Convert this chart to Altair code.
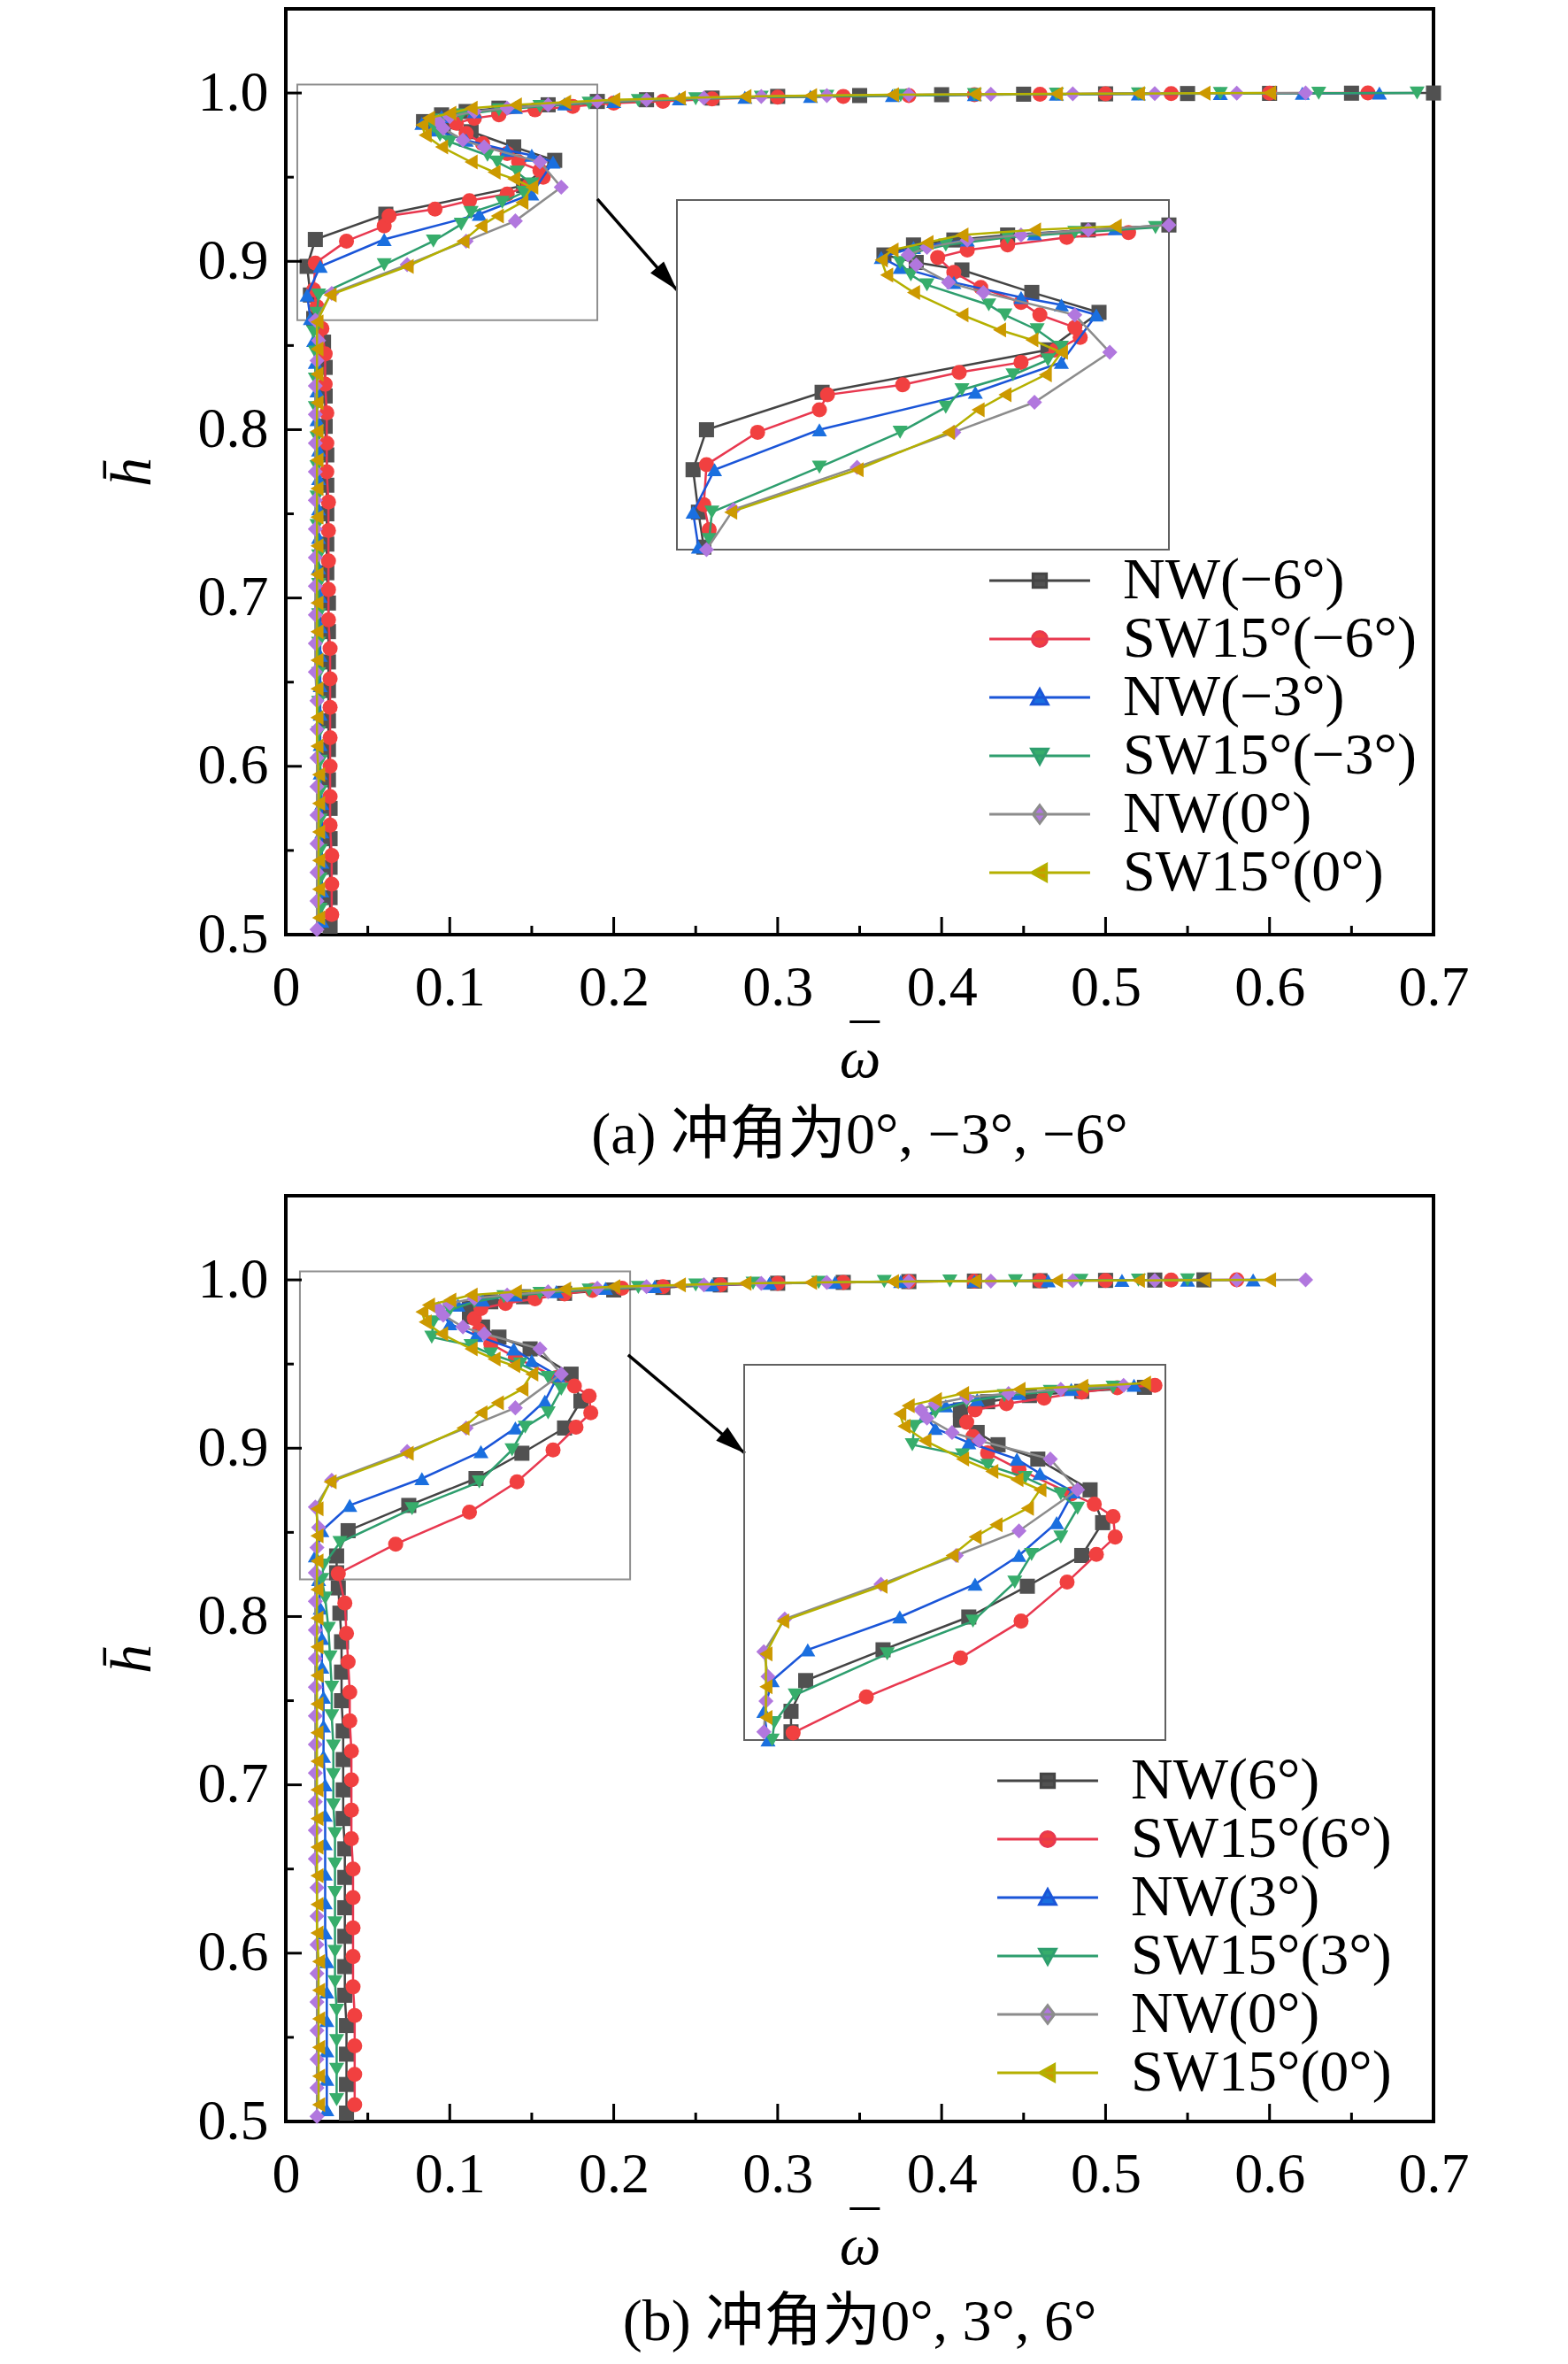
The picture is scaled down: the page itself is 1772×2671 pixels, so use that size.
import altair as alt
import pandas as pd

FONT = "Liberation Serif"
CJK_FONT = "Liberation Serif, Noto Sans CJK SC, sans-serif"

# ---------------- series names / styles ----------------
NAMES_TOP = ["NW(−6°)", "SW15°(−6°)", "NW(−3°)", "SW15°(−3°)", "NW(0°)", "SW15°(0°)"]
NAMES_BOT = ["NW(6°)", "SW15°(6°)", "NW(3°)", "SW15°(3°)", "NW(0°)", "SW15°(0°)"]
MARKER_COLORS = ["#515151", "#F14040", "#1A6FDF", "#37AD6B", "#B177DE", "#CC9900"]
LINE_COLORS = ["#444444", "#E8384F", "#1A55D8", "#2E9E6E", "#8C8C8C", "#B5B000"]
SHAPES = ["square", "circle", "triangle-up", "triangle-down", "diamond", "triangle-left"]
_L = "M-3.35,0H3.35"
LEGEND_PATHS = [
    _L + "M-0.45,-0.45H0.45V0.45H-0.45Z",
    _L + "M-0.5,0A0.5,0.5,0,1,0,0.5,0A0.5,0.5,0,1,0,-0.5,0Z",
    _L + "M0,-0.55L0.55,0.45L-0.55,0.45Z",
    _L + "M0,0.55L0.55,-0.45L-0.55,-0.45Z",
    _L + "M0,-0.6L0.45,0L0,0.6L-0.45,0Z",
    _L + "M-0.55,0L0.45,-0.55L0.45,0.55Z",
]

# ---------------- axis ticks ----------------
X_TICKS = [0, 0.1, 0.2, 0.3, 0.4, 0.5, 0.6, 0.7]
X_MINOR = [0.05, 0.15, 0.25, 0.35, 0.45, 0.55, 0.65]
Y_TICKS = [0.5, 0.6, 0.7, 0.8, 0.9, 1.0]
Y_MINOR = [0.55, 0.65, 0.75, 0.85, 0.95]

# ---------------- (a) top panel data ----------------
NW_M6_H = [0.505, 0.522, 0.540, 0.557, 0.575, 0.592, 0.610, 0.627, 0.645, 0.662, 0.680, 0.697, 0.715, 0.732,
           0.750, 0.767, 0.785, 0.802, 0.820, 0.837, 0.852,
           0.866, 0.880, 0.897, 0.913, 0.928, 0.945, 0.960, 0.968, 0.977, 0.980, 0.983, 0.987, 0.989,
           0.991, 0.993, 0.995, 0.996, 0.997, 0.998, 0.9985, 0.999, 0.9993, 0.9995, 0.9997, 0.9998, 0.9999, 1.0]
NW_M6_X = [0.027, 0.027, 0.027, 0.027, 0.027, 0.026, 0.026, 0.026, 0.026, 0.026, 0.026, 0.026, 0.025, 0.025,
           0.025, 0.025, 0.025, 0.024, 0.024, 0.024, 0.023,
           0.017, 0.015, 0.013, 0.018, 0.061, 0.145, 0.164, 0.139, 0.113, 0.096, 0.084, 0.095, 0.110,
           0.130, 0.160, 0.190, 0.220, 0.260, 0.300, 0.350, 0.400, 0.450, 0.500, 0.550, 0.600, 0.650, 0.700]

SW_M6_H = [0.512, 0.530, 0.547, 0.565, 0.582, 0.600, 0.617, 0.635, 0.652, 0.670, 0.687, 0.705, 0.722, 0.740,
           0.757, 0.775, 0.792, 0.810, 0.827, 0.845,
           0.860, 0.873, 0.883, 0.899, 0.912, 0.921, 0.927, 0.931, 0.936, 0.940, 0.945, 0.950, 0.954, 0.959,
           0.964, 0.970, 0.976, 0.982, 0.985, 0.987, 0.990,
           0.992, 0.994, 0.995, 0.9965, 0.9975, 0.998, 0.9985, 0.999, 0.9993, 0.9995, 0.9997, 0.9999, 1.0]
SW_M6_X = [0.028, 0.028, 0.028, 0.027, 0.027, 0.027, 0.027, 0.027, 0.027, 0.027, 0.026, 0.026, 0.026, 0.026,
           0.026, 0.025, 0.025, 0.025, 0.024, 0.024,
           0.022, 0.019, 0.017, 0.018, 0.037, 0.060, 0.063, 0.091, 0.112, 0.135, 0.148, 0.157, 0.155, 0.142,
           0.135, 0.120, 0.110, 0.104, 0.115, 0.130, 0.152,
           0.175, 0.200, 0.230, 0.260, 0.300, 0.340, 0.380, 0.420, 0.460, 0.500, 0.540, 0.600, 0.660]

NW_M3_H = [0.508, 0.526, 0.543, 0.561, 0.578, 0.596, 0.613, 0.631, 0.648, 0.666, 0.683, 0.701, 0.718, 0.736,
           0.753, 0.771, 0.788, 0.806, 0.823, 0.840, 0.853,
           0.866, 0.880, 0.897, 0.913, 0.928, 0.940, 0.959, 0.963, 0.966, 0.972, 0.978, 0.982, 0.986, 0.989,
           0.9915, 0.9935, 0.995, 0.9965, 0.9975, 0.998, 0.9985, 0.999, 0.9993, 0.9995, 0.9997, 0.9999, 1.0]
NW_M3_X = [0.022, 0.022, 0.022, 0.022, 0.022, 0.021, 0.021, 0.021, 0.021, 0.021, 0.021, 0.021, 0.020, 0.020,
           0.020, 0.020, 0.020, 0.019, 0.019, 0.018, 0.017,
           0.015, 0.013, 0.021, 0.060, 0.118, 0.150, 0.163, 0.150, 0.135, 0.110, 0.090, 0.083, 0.095, 0.115,
           0.140, 0.170, 0.200, 0.240, 0.280, 0.320, 0.370, 0.420, 0.470, 0.520, 0.570, 0.620, 0.667]

SW_M3_H = [0.515, 0.533, 0.550, 0.568, 0.585, 0.603, 0.620, 0.638, 0.655, 0.673, 0.690, 0.708, 0.725, 0.743,
           0.760, 0.778, 0.795, 0.813, 0.830, 0.846,
           0.858, 0.869, 0.880, 0.898, 0.912, 0.922, 0.929, 0.935, 0.941, 0.946, 0.953, 0.959, 0.963, 0.971,
           0.975, 0.980, 0.984, 0.987, 0.990,
           0.992, 0.994, 0.9955, 0.9965, 0.9975, 0.998, 0.9985, 0.999, 0.9993, 0.9995, 0.9997, 0.9999, 1.0]
SW_M3_X = [0.021, 0.021, 0.021, 0.021, 0.021, 0.021, 0.020, 0.020, 0.020, 0.020, 0.020, 0.020, 0.020, 0.019,
           0.019, 0.019, 0.019, 0.018, 0.018, 0.018,
           0.017, 0.019, 0.020, 0.060, 0.090, 0.107, 0.113, 0.132, 0.145, 0.150, 0.141, 0.129, 0.123, 0.100,
           0.094, 0.090, 0.095, 0.107, 0.130,
           0.155, 0.185, 0.215, 0.250, 0.290, 0.330, 0.375, 0.420, 0.470, 0.520, 0.570, 0.630, 0.690]

# 0° series (same in both panels)
NW_0_H = [0.503, 0.520, 0.537, 0.554, 0.571, 0.588, 0.605, 0.622, 0.639, 0.656, 0.673, 0.690, 0.707, 0.724,
          0.741, 0.758, 0.775, 0.792, 0.809, 0.826, 0.841, 0.853,
          0.865, 0.881, 0.898, 0.912, 0.924, 0.944, 0.959, 0.968, 0.972, 0.979, 0.983, 0.986, 0.989,
          0.991, 0.993, 0.995, 0.996, 0.997, 0.998, 0.9985, 0.999, 0.9993, 0.9995, 0.9997, 0.9999, 1.0]
NW_0_X = [0.019, 0.019, 0.019, 0.019, 0.019, 0.019, 0.019, 0.019, 0.019, 0.018, 0.018, 0.018, 0.018, 0.018,
          0.018, 0.018, 0.018, 0.018, 0.018, 0.018, 0.019, 0.020,
          0.018, 0.028, 0.074, 0.110, 0.140, 0.168, 0.155, 0.121, 0.108, 0.096, 0.093, 0.100, 0.115,
          0.135, 0.160, 0.190, 0.220, 0.255, 0.290, 0.330, 0.380, 0.430, 0.480, 0.530, 0.580, 0.622]

SW_0_H = [0.510, 0.527, 0.544, 0.561, 0.578, 0.595, 0.612, 0.629, 0.646, 0.663, 0.680, 0.697, 0.714, 0.731,
          0.748, 0.765, 0.782, 0.799, 0.816, 0.833, 0.848,
          0.864, 0.880, 0.897, 0.912, 0.921, 0.927, 0.935, 0.944, 0.949, 0.953, 0.959, 0.968, 0.975, 0.981,
          0.985, 0.988, 0.991,
          0.993, 0.9945, 0.996, 0.997, 0.998, 0.9985, 0.999, 0.9993, 0.9995, 0.9997, 0.9999, 1.0]
SW_0_X = [0.020, 0.020, 0.020, 0.020, 0.020, 0.020, 0.019, 0.019, 0.019, 0.019, 0.019, 0.019, 0.019, 0.019,
          0.019, 0.019, 0.019, 0.019, 0.019, 0.019, 0.019,
          0.019, 0.027, 0.074, 0.108, 0.119, 0.129, 0.144, 0.150, 0.139, 0.127, 0.113, 0.095, 0.085, 0.083,
          0.087, 0.100, 0.113,
          0.140, 0.170, 0.200, 0.240, 0.280, 0.320, 0.370, 0.420, 0.470, 0.520, 0.560, 0.600]

# ---------------- (b) bottom panel data ----------------
NW_P6_H = [0.505, 0.522, 0.540, 0.557, 0.575, 0.592, 0.610, 0.627, 0.645, 0.662, 0.680, 0.697, 0.715, 0.732,
           0.750, 0.767, 0.785, 0.802, 0.817,
           0.826, 0.836, 0.851, 0.866, 0.882, 0.897, 0.912, 0.928, 0.944, 0.959, 0.966, 0.972, 0.978, 0.983,
           0.987,
           0.990, 0.992, 0.994, 0.9955, 0.997, 0.998, 0.9985, 0.999, 0.9993, 0.9995, 0.9997, 0.9999, 1.0]
NW_P6_X = [0.037, 0.037, 0.037, 0.037, 0.036, 0.036, 0.036, 0.036, 0.036, 0.036, 0.035, 0.035, 0.035, 0.035,
           0.034, 0.034, 0.034, 0.033, 0.032,
           0.031, 0.031, 0.038, 0.075, 0.116, 0.144, 0.170, 0.180, 0.174, 0.149, 0.130, 0.120, 0.112, 0.112,
           0.125,
           0.145, 0.170, 0.200, 0.230, 0.265, 0.300, 0.340, 0.380, 0.420, 0.460, 0.500, 0.530, 0.560]

SW_P6_H = [0.510, 0.528, 0.545, 0.563, 0.580, 0.598, 0.615, 0.633, 0.650, 0.668, 0.685, 0.703, 0.720, 0.738,
           0.755, 0.773, 0.790, 0.808,
           0.8255, 0.843, 0.862, 0.880, 0.899, 0.9125, 0.921, 0.931, 0.937, 0.942, 0.954, 0.962, 0.970, 0.977,
           0.983, 0.986, 0.9887, 0.9916, 0.9938,
           0.995, 0.996, 0.997, 0.998, 0.9985, 0.999, 0.9993, 0.9995, 0.9997, 0.9999, 1.0]
SW_P6_X = [0.042, 0.042, 0.042, 0.042, 0.041, 0.041, 0.041, 0.041, 0.041, 0.040, 0.040, 0.040, 0.040, 0.039,
           0.039, 0.038, 0.037, 0.036,
           0.032, 0.067, 0.112, 0.141, 0.163, 0.177, 0.186, 0.185, 0.176, 0.165, 0.140, 0.125, 0.118, 0.115,
           0.119, 0.134, 0.152, 0.170, 0.187,
           0.205, 0.230, 0.265, 0.300, 0.340, 0.380, 0.420, 0.460, 0.500, 0.540, 0.580]

NW_P3_H = [0.507, 0.525, 0.542, 0.560, 0.577, 0.595, 0.612, 0.630, 0.647, 0.665, 0.682, 0.700, 0.717, 0.735,
           0.752, 0.770, 0.787, 0.805, 0.822,
           0.836, 0.851, 0.866, 0.882, 0.898, 0.912, 0.928, 0.943, 0.952, 0.959, 0.967, 0.974, 0.980, 0.985,
           0.988,
           0.991, 0.993, 0.995, 0.996, 0.997, 0.998, 0.9985, 0.999, 0.9993, 0.9995, 0.9997, 0.9999, 1.0]
NW_P3_X = [0.025, 0.025, 0.025, 0.025, 0.025, 0.025, 0.024, 0.024, 0.024, 0.024, 0.024, 0.024, 0.023, 0.023,
           0.023, 0.022, 0.022, 0.021, 0.020,
           0.018, 0.022, 0.039, 0.083, 0.119, 0.140, 0.158, 0.166, 0.150, 0.139, 0.116, 0.100, 0.095, 0.105,
           0.120,
           0.140, 0.165, 0.195, 0.225, 0.260, 0.295, 0.335, 0.375, 0.420, 0.465, 0.510, 0.550, 0.590]

SW_P3_H = [0.513, 0.531, 0.548, 0.566, 0.583, 0.601, 0.618, 0.636, 0.653, 0.671, 0.688, 0.706, 0.723, 0.741,
           0.758, 0.776, 0.793, 0.811,
           0.822, 0.8305, 0.844, 0.864, 0.880, 0.899, 0.9125, 0.921, 0.935, 0.942, 0.950, 0.956, 0.961, 0.966,
           0.975, 0.982, 0.987,
           0.990, 0.992, 0.994, 0.9955, 0.997, 0.998, 0.9985, 0.999, 0.9993, 0.9995, 0.9997, 0.9999, 1.0]
SW_P3_X = [0.031, 0.031, 0.031, 0.031, 0.030, 0.030, 0.030, 0.030, 0.030, 0.030, 0.029, 0.029, 0.029, 0.028,
           0.028, 0.027, 0.026, 0.024,
           0.022, 0.023, 0.033, 0.077, 0.118, 0.138, 0.146, 0.160, 0.168, 0.160, 0.143, 0.125, 0.113, 0.089,
           0.090, 0.100, 0.115,
           0.133, 0.155, 0.185, 0.215, 0.250, 0.285, 0.325, 0.365, 0.405, 0.445, 0.485, 0.520, 0.550]

SERIES_TOP = [(NW_M6_X, NW_M6_H), (SW_M6_X, SW_M6_H), (NW_M3_X, NW_M3_H),
              (SW_M3_X, SW_M3_H), (NW_0_X, NW_0_H), (SW_0_X, SW_0_H)]
SERIES_BOT = [(NW_P6_X, NW_P6_H), (SW_P6_X, SW_P6_H), (NW_P3_X, NW_P3_H),
              (SW_P3_X, SW_P3_H), (NW_0_X, NW_0_H), (SW_0_X, SW_0_H)]

# zoom boxes (data units): x0, x1, h0, h1
BOX_TOP = [0.007, 0.19, 0.865, 1.005]
BOX_BOT = [0.0086, 0.21, 0.822, 1.005]
# arrows (data units): x0, h0, x1, h1
ARROW_TOP = [0.19, 0.937, 0.2385, 0.883]
ARROW_BOT = [0.2088, 0.9554, 0.280, 0.897]

CAPTION_TOP = "(a) 冲角为0°, −3°, −6°"
CAPTION_BOT = "(b) 冲角为0°, 3°, 6°"
X_TITLE = ["¯", "ω"]
Y_TITLE = "h\u0304"

# ---------------- layout constants ----------------
W, H = 1297, 1046
MS = 290
ARROW_PATH = "M0,0L0.5,1.7L-0.5,1.7Z"


def x_axis():
    return alt.Axis(values=X_TICKS, labelExpr="datum.value == 0 ? '0' : format(datum.value, '.1f')",
                    grid=False, domain=False, ticks=False, labelFont=FONT, labelFontSize=64,
                    labelColor="black", labelPadding=28, labelFlush=False, labelOverlap=False,
                    title=X_TITLE, titleFont=FONT, titleFontSize=66, titleFontStyle="italic",
                    titleFontWeight="normal", titleColor="black", titlePadding=2, titleLineHeight=14)


def y_axis():
    return alt.Axis(values=Y_TICKS, format=".1f", grid=False, domain=False, ticks=False,
                    labelFont=FONT, labelFontSize=64, labelColor="black", labelPadding=20,
                    labelFlush=False, labelOverlap=False,
                    title=Y_TITLE, titleFont=FONT, titleFontSize=66, titleFontStyle="italic",
                    titleFontWeight="normal", titleColor="black", titlePadding=40)


def make_panel(names, series, box, inset_xr, inset_yr, arrow, arrow_angle, caption, leg_x, leg_y):
    rows = []
    for name, (xs, hs) in zip(names, series):
        for k, (xv, hv) in enumerate(zip(xs, hs)):
            rows.append({"series": name, "x": xv, "h": hv, "i": k})
    df = pd.DataFrame(rows)

    xsc = alt.Scale(domain=[0, 0.7], nice=False, zero=False)
    ysc = alt.Scale(domain=[0.5, 1.05], nice=False, zero=False)

    def X(f):
        return alt.X(f, type="quantitative", scale=xsc, axis=x_axis())

    def Y(f):
        return alt.Y(f, type="quantitative", scale=ysc, axis=y_axis())

    box_df = pd.DataFrame([{"x0": box[0], "x1": box[1], "y0": box[2], "y1": box[3]}])
    arr_df = pd.DataFrame([{"ax0": arrow[0], "ay0": arrow[1], "ax1": arrow[2], "ay1": arrow[3]}])

    main_layers = []
    main_layers.append(alt.Chart(box_df).mark_rect(fillOpacity=0, stroke="#8f8f8f", strokeWidth=2).encode(
        x=X("x0"), x2="x1", y=Y("y0"), y2="y1"))
    for idx, name in enumerate(names):
        base = alt.Chart(df).transform_filter(alt.datum.series == name)
        main_layers.append(base.mark_line(color=LINE_COLORS[idx], strokeWidth=2.5).encode(
            x=X("x"), y=Y("h"), order="i:Q"))
        main_layers.append(base.mark_point(filled=True, shape=SHAPES[idx], size=MS,
                                           color=MARKER_COLORS[idx], opacity=1).encode(x=X("x"), y=Y("h")))
    # arrow
    main_layers.append(alt.Chart(arr_df).mark_rule(color="black", strokeWidth=3.5).encode(
        x=X("ax0"), y=Y("ay0"), x2="ax1", y2="ay1"))
    main_layers.append(alt.Chart(arr_df).mark_point(shape=ARROW_PATH, size=1600, angle=arrow_angle,
                                                    filled=True, color="black", opacity=1).encode(
        x=X("ax1"), y=Y("ay1")))
    # inward ticks
    main_layers.append(alt.Chart(pd.DataFrame({"v": X_TICKS})).mark_rule(color="black", strokeWidth=3).encode(
        x=X("v"), y=alt.value(H), y2=alt.value(H - 20)))
    main_layers.append(alt.Chart(pd.DataFrame({"v": X_MINOR})).mark_rule(color="black", strokeWidth=3).encode(
        x=X("v"), y=alt.value(H), y2=alt.value(H - 10)))
    main_layers.append(alt.Chart(pd.DataFrame({"v": Y_TICKS})).mark_rule(color="black", strokeWidth=3).encode(
        y=Y("v"), x=alt.value(0), x2=alt.value(18)))
    main_layers.append(alt.Chart(pd.DataFrame({"v": Y_MINOR})).mark_rule(color="black", strokeWidth=3).encode(
        y=Y("v"), x=alt.value(0), x2=alt.value(9)))
    # legend-only layer
    leg = alt.Legend(title=None, orient="none", legendX=leg_x, legendY=leg_y, symbolSize=1156,
                     symbolStrokeWidth=3, labelFont=FONT, labelFontSize=66, labelColor="black",
                     labelOffset=61, rowPadding=0, padding=0, labelLimit=0, symbolOpacity=1)
    leg_df = pd.DataFrame({"series": names})
    main_layers.append(alt.Chart(leg_df).transform_filter("false").mark_point(filled=True, opacity=1).encode(
        shape=alt.Shape("series:N", scale=alt.Scale(domain=names, range=LEGEND_PATHS), legend=leg, sort=names),
        fill=alt.Fill("series:N", scale=alt.Scale(domain=names, range=MARKER_COLORS), legend=leg, sort=names),
        stroke=alt.Stroke("series:N", scale=alt.Scale(domain=names, range=LINE_COLORS), legend=leg, sort=names),
    ))
    main = alt.layer(*main_layers)

    # inset
    xi = alt.Scale(domain=[box[0], box[1]], range=inset_xr, nice=False, zero=False)
    yi = alt.Scale(domain=[box[2], box[3]], range=inset_yr, nice=False, zero=False)

    def XI(f):
        return alt.X(f, type="quantitative", scale=xi, axis=None)

    def YI(f):
        return alt.Y(f, type="quantitative", scale=yi, axis=None)

    inset_layers = [alt.Chart(box_df).mark_rect(fillOpacity=0, stroke="#606060", strokeWidth=2).encode(
        x=XI("x0"), x2="x1", y=YI("y0"), y2="y1")]
    for idx, name in enumerate(names):
        base = alt.Chart(df).transform_filter(alt.datum.series == name).transform_filter(
            alt.FieldRangePredicate(field="x", range=[box[0], box[1]])).transform_filter(
            alt.FieldRangePredicate(field="h", range=[box[2], box[3]]))
        inset_layers.append(base.mark_line(color=LINE_COLORS[idx], strokeWidth=2.5).encode(
            x=XI("x"), y=YI("h"), order="i:Q"))
        inset_layers.append(base.mark_point(filled=True, shape=SHAPES[idx], size=MS,
                                            color=MARKER_COLORS[idx], opacity=1).encode(x=XI("x"), y=YI("h")))
    inset = alt.layer(*inset_layers)

    return alt.layer(main, inset).resolve_scale(x="independent", y="independent").properties(
        width=W, height=H,
        title=alt.TitleParams(text=caption, orient="bottom", font=CJK_FONT, fontSize=66,
                              fontWeight="normal", color="black", offset=22, anchor="middle"))


top = make_panel(NAMES_TOP, SERIES_TOP, BOX_TOP, [442, 998], [611, 216], ARROW_TOP, 139,
                 CAPTION_TOP, 819, 613)
bot = make_panel(NAMES_BOT, SERIES_BOT, BOX_BOT, [518, 994], [615, 191], ARROW_BOT, 130,
                 CAPTION_BOT, 828, 628)

chart = alt.vconcat(top, bot, spacing=31).resolve_scale(
    shape="independent", fill="independent", stroke="independent", color="independent"
).resolve_legend(
    shape="independent", fill="independent", stroke="independent"
).configure_view(stroke="black", strokeWidth=4).properties(
    padding={"left": 106, "top": 0, "right": 5, "bottom": 0}, background="white"
)

chart.save("out.html", embed_options={"renderer": "svg", "actions": False})
